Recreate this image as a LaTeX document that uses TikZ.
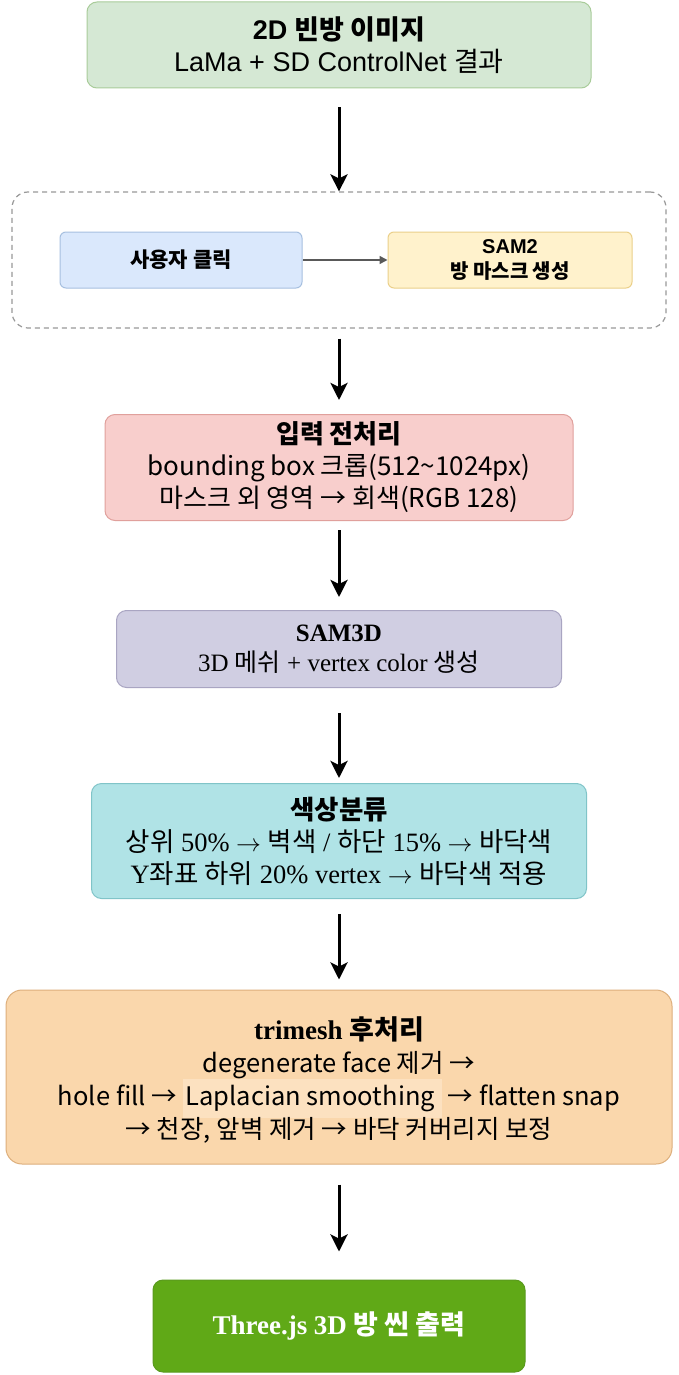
\documentclass[tikz,border=0pt]{standalone}
\usepackage{fontspec}
\setmainfont{Liberation Serif}
\newfontfamily\kr{Noto Sans CJK KR}
\newfontfamily\ar{Liberation Sans}
\usetikzlibrary{arrows.meta}
\definecolor{gF}{HTML}{D5E8D4}\definecolor{gD}{HTML}{A9CC9A}
\definecolor{bF}{HTML}{DAE8FC}\definecolor{bD}{HTML}{A7C0E0}
\definecolor{yF}{HTML}{FFF2CC}\definecolor{yD}{HTML}{EBD08A}
\definecolor{pF}{HTML}{F8CECC}\definecolor{pD}{HTML}{E0A09C}
\definecolor{vF}{HTML}{D0CEE2}\definecolor{vD}{HTML}{A9A5C2}
\definecolor{cF}{HTML}{B0E3E6}\definecolor{cD}{HTML}{80C4C8}
\definecolor{oF}{HTML}{FAD7AC}\definecolor{oD}{HTML}{DDAF7C}
\definecolor{lap}{HTML}{FCE1C0}
\definecolor{fF}{HTML}{60A917}\definecolor{fD}{HTML}{5A9A1E}
\newcommand{\rar}{\ensuremath{\rightarrow}}
\begin{document}
\begin{tikzpicture}[x=1pt,y=-1pt,
  box/.style={draw, rounded corners=10pt, line width=1pt, align=center, inner sep=0pt},
  flow/.style={-{Stealth[length=17pt,width=17pt,inset=4pt]}, line width=3pt, black},
]
\useasboundingbox[fill=white] (0,0) rectangle (679,1375);

\node[box, fill=gF, draw=gD, minimum width=504pt, minimum height=86pt,
  font=\fontsize{27}{32}\selectfont] (n1) at (339,45)
  {{\ar\bfseries 2D }{\kr\bfseries 빈방 이미지}\\{\ar LaMa + SD ControlNet }{\kr 결과}};

\node[draw=gray!80, dash pattern=on 5pt off 4pt, rounded corners=16pt, line width=1.2pt,
  minimum width=654pt, minimum height=136pt, inner sep=0pt] (grp) at (339,260) {};

\node[box, rounded corners=6pt, fill=bF, draw=bD, minimum width=242pt, minimum height=56pt,
  font=\kr\bfseries\fontsize{21}{24}\selectfont] (click) at (181,260) {사용자 클릭};
\node[box, rounded corners=6pt, fill=yF, draw=yD, minimum width=244pt, minimum height=56pt,
  font=\kr\bfseries\fontsize{20}{25}\selectfont] (sam2) at (510,260) {{\ar\bfseries SAM2}\\방 마스크 생성};
\draw[-{Triangle[length=8pt,width=8pt]}, line width=1.5pt, draw=black!65, fill=black!65] (click) -- (sam2);

\node[box, fill=pF, draw=pD, minimum width=468pt, minimum height=106pt,
  font=\kr\fontsize{26}{32}\selectfont] (pre) at (339,467.5)
  {{\bfseries 입력 전처리}\\bounding box 크롭(512\textasciitilde 1024px)\\마스크 외 영역 → 회색(RGB 128)};

\node[box, fill=vF, draw=vD, minimum width=445pt, minimum height=77pt,
  font=\fontsize{25}{30}\selectfont] (sam3d) at (339,649)
  {{\bfseries SAM3D}\\3D {\kr 메쉬} + vertex color {\kr 생성}};

\node[box, fill=cF, draw=cD, minimum width=495pt, minimum height=115pt,
  font=\fontsize{26.5}{32}\selectfont] (col) at (339,841)
  {{\kr\bfseries 색상분류}\\{\kr 상위} 50\% \rar{} {\kr 벽색} / {\kr 하단} 15\% \rar{} {\kr 바닥색}\\Y{\kr 좌표 하위} 20\% vertex \rar{} {\kr 바닥색 적용}};

\node[box, rounded corners=16pt, fill=oF, draw=oD, minimum width=666pt, minimum height=174pt,
  font=\kr\fontsize{25.5}{33}\selectfont] (post) at (339,1077) {};
\node[align=center, inner sep=0pt, font=\kr\fontsize{25.5}{33}\selectfont] (posttxt) at (339,1080)
  {{\fontsize{27}{33}\selectfont{\rmfamily\bfseries trimesh }{\bfseries 후처리}}\\degenerate face 제거 →\\hole fill → \setlength\fboxsep{3pt}\smash{\colorbox{lap}{\strut Laplacian smoothing\,}} → flatten snap\\→ 천장, 앞벽 제거 → 바닥 커버리지 보정};

\node[box, fill=fF, draw=fD, minimum width=372pt, minimum height=92pt, text=white,
  font=\bfseries\fontsize{27}{32}\selectfont] (out) at (339,1326)
  {Three.js 3D {\kr\bfseries 방 씬 출력}};

\draw[flow, shorten <=19pt] (n1.south) -- (grp.north);
\draw[flow, shorten <=10pt, shorten >=14pt] (grp.south) -- (pre.north);
\draw[flow, shorten <=9pt, shorten >=13pt] (pre.south) -- (sam3d.north);
\draw[flow, shorten <=25pt, shorten >=5pt] (sam3d.south) -- (col.north);
\draw[flow, shorten <=15pt, shorten >=10pt] (col.south) -- (post.north);
\draw[flow, shorten <=20pt, shorten >=28pt] (post.south) -- (out.north);
\end{tikzpicture}
\end{document}
